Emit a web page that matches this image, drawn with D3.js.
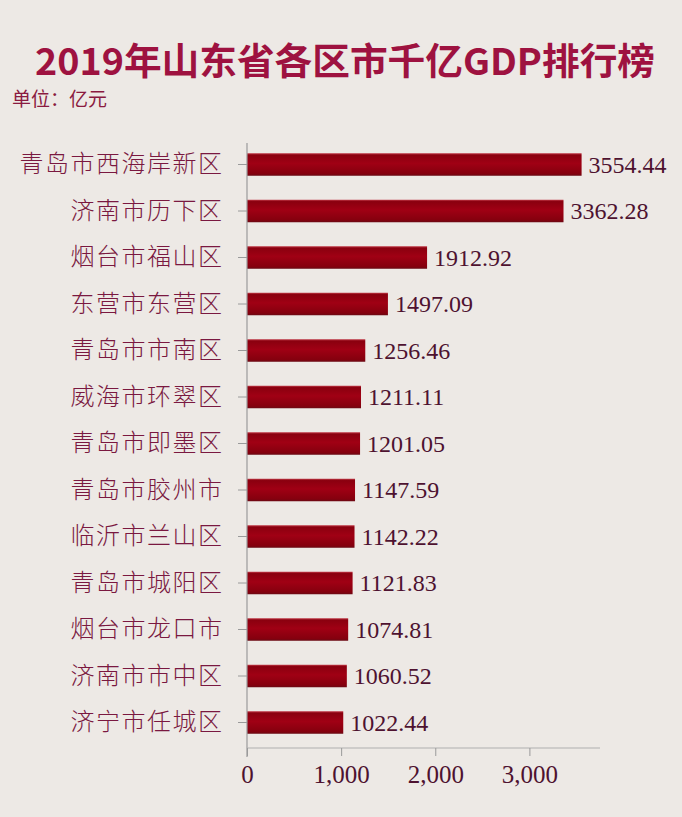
<!DOCTYPE html>
<html>
<head>
<meta charset="utf-8">
<script src="https://cdn.jsdelivr.net/npm/d3@7"></script>
<style>
html,body{margin:0;padding:0;background:#ede9e5;}
svg{display:block;}
</style>
</head>
<body>
<svg id="chart" width="682" height="817"></svg>
<script>
const categories = ["青岛市西海岸新区","济南市历下区","烟台市福山区","东营市东营区","青岛市市南区","威海市环翠区","青岛市即墨区","青岛市胶州市","临沂市兰山区","青岛市城阳区","烟台市龙口市","济南市市中区","济宁市任城区"];
const values = [3554.44,3362.28,1912.92,1497.09,1256.46,1211.11,1201.05,1147.59,1142.22,1121.83,1074.81,1060.52,1022.44];
const xTicks = [0,1000,2000,3000];
const titleText = "2019年山东省各区市千亿GDP排行榜";
const unitText = "单位：亿元";

const svg = d3.select("#chart");
svg.append("rect").attr("width",682).attr("height",817).attr("fill","#ede9e5");

const defs = svg.append("defs");
const g = defs.append("linearGradient").attr("id","barGrad").attr("x1",0).attr("x2",0).attr("y1",0).attr("y2",1);
g.append("stop").attr("offset","0%").attr("stop-color","#c23a48");
g.append("stop").attr("offset","8%").attr("stop-color","#8a000f");
g.append("stop").attr("offset","45%").attr("stop-color","#a00014");
g.append("stop").attr("offset","90%").attr("stop-color","#85000e");
g.append("stop").attr("offset","100%").attr("stop-color","#6a0a14");

svg.append("text").attr("x",345).attr("y",75).attr("text-anchor","middle")
  .attr("font-family","'Noto Sans CJK SC', sans-serif").attr("font-weight","bold")
  .attr("font-size",37).attr("fill","#9e1240").attr("textLength",620).attr("lengthAdjust","spacingAndGlyphs")
  .text(titleText);
svg.append("text").attr("x",12).attr("y",106)
  .attr("font-family","'Noto Sans CJK SC', sans-serif")
  .attr("font-size",19).attr("fill","#8a1a40").text(unitText);

const x = d3.scaleLinear().domain([0,3750]).range([247,600]);
const y = d3.scaleBand().domain(categories).range([141.25,745.75]).paddingInner(0.516).paddingOuter(0.258);

// bars
svg.append("g").selectAll("rect").data(values).join("rect")
  .attr("x",x(0)).attr("y",(d,i)=>y(categories[i]))
  .attr("width",d=>x(d)-x(0)).attr("height",y.bandwidth())
  .attr("fill","url(#barGrad)");

// value labels
svg.append("g").selectAll("text").data(values).join("text")
  .attr("x",d=>x(d)+7).attr("y",(d,i)=>y(categories[i])+y.bandwidth()/2)
  .attr("dy","0.35em")
  .attr("font-family","'Liberation Serif', 'Times New Roman', serif")
  .attr("font-size",24).attr("fill","#4e1230")
  .text(d=>d3.format(".2f")(d));

// y axis
const yAxis = svg.append("g").attr("transform",`translate(${x(0)},0)`)
  .call(d3.axisLeft(y).tickSize(9).tickPadding(16).tickSizeOuter(0));
yAxis.select(".domain").attr("d",`M0,143V757`).attr("stroke","#9a9a9a").attr("stroke-width",1.2);
yAxis.selectAll(".tick line").attr("stroke","#9a9a9a");
yAxis.selectAll(".tick text").attr("font-family","'Noto Sans CJK SC', sans-serif")
  .attr("font-weight",300)
  .attr("font-size",24).attr("fill","#7a1840").attr("letter-spacing","1.5px").attr("dx","1.5px");

// x axis
const xAxis = svg.append("g").attr("transform","translate(0,748)")
  .call(d3.axisBottom(x).tickValues(xTicks).tickFormat(d3.format(",")).tickSize(8).tickPadding(9).tickSizeOuter(0));
xAxis.select(".domain").attr("d",`M${x(0)},0H600`).attr("stroke","#b0b0b0").attr("stroke-width",1.2);
xAxis.selectAll(".tick line").attr("stroke","#9a9a9a");
xAxis.selectAll(".tick text").attr("font-family","'Liberation Serif', 'Times New Roman', serif")
  .attr("font-size",25).attr("fill","#4e1230");
</script>
</body>
</html>
